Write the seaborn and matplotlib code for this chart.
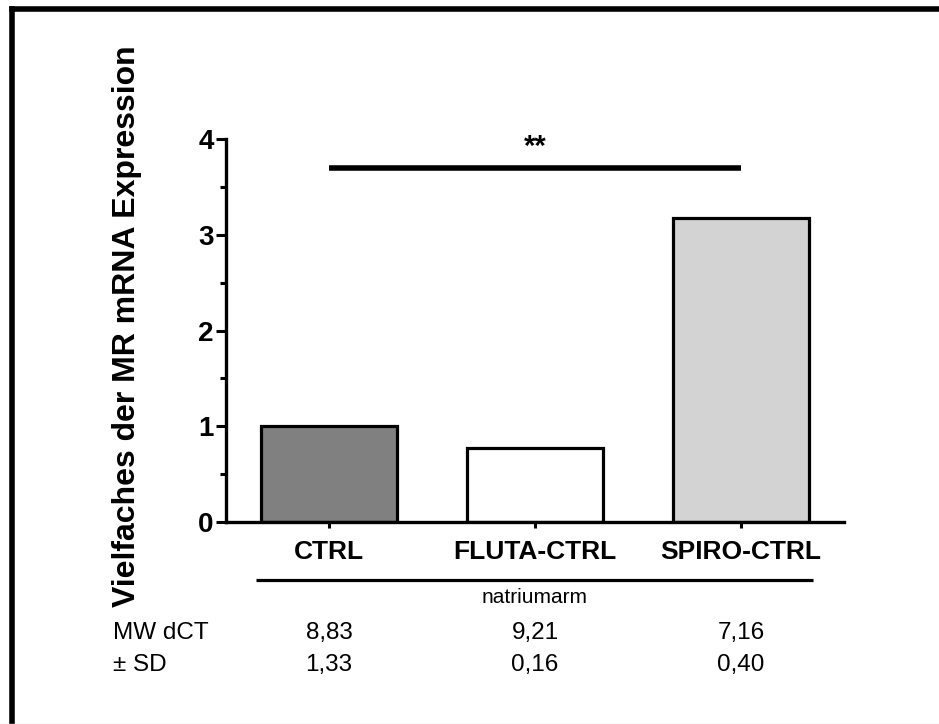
import matplotlib
matplotlib.use("Agg")
import matplotlib.pyplot as plt
import seaborn as sns
import pandas as pd
from matplotlib.lines import Line2D
from matplotlib.ticker import MultipleLocator

categories = ["CTRL", "FLUTA-CTRL", "SPIRO-CTRL"]
values = [1.0, 0.77, 3.17]
bar_colors = ["#808080", "#ffffff", "#d3d3d3"]
mw_dct = ["8,83", "9,21", "7,16"]
sd_vals = ["1,33", "0,16", "0,40"]
y_ticks = [0, 1, 2, 3, 4]
sig_text = "**"
sig_level = 3.7
group_label = "natriumarm"
y_label = "Vielfaches der MR mRNA Expression"

sns.set_theme(style="white")
plt.rcParams["font.family"] = ["Liberation Sans", "DejaVu Sans"]
plt.rcParams["text.color"] = "black"
plt.rcParams["axes.labelcolor"] = "black"
plt.rcParams["xtick.color"] = "black"
plt.rcParams["ytick.color"] = "black"

df = pd.DataFrame({"cat": categories, "val": values})

fig = plt.figure(figsize=(9.39, 7.24), dpi=100)
ax = fig.add_axes([0.2407, 0.279, 0.658, 0.529])

sns.barplot(data=df, x="cat", y="val", hue="cat", palette=bar_colors,
            edgecolor="black", linewidth=2.3, width=0.66, saturation=1,
            legend=False, ax=ax)

ax.set_xlim(-0.5, 2.5)
ax.set_ylim(0, 4)
ax.set_yticks(y_ticks)
ax.yaxis.set_minor_locator(MultipleLocator(0.5))
ax.set_xlabel("")
ax.set_ylabel("")

for s in ["top", "right"]:
    ax.spines[s].set_visible(False)
for s in ["left", "bottom"]:
    ax.spines[s].set_linewidth(2.4)
    ax.spines[s].set_color("black")

ax.tick_params(axis="y", which="major", direction="out", length=7, width=2.2,
               left=True, pad=2, labelsize=20, colors="black")
ax.tick_params(axis="y", which="minor", direction="out", length=4, width=2.2,
               left=True)
ax.tick_params(axis="x", which="major", direction="out", length=4, width=2.2,
               bottom=True, pad=9, labelsize=19, colors="black")
for lab in ax.get_yticklabels() + ax.get_xticklabels():
    lab.set_fontweight("bold")

# significance bar
ax.plot([0, 2], [sig_level, sig_level], color="black", lw=4, solid_capstyle="butt",
        clip_on=False)
ax.text(1, 3.92, sig_text, ha="center", va="center", fontsize=21,
        fontweight="bold", clip_on=False)

xt = ax.get_xaxis_transform()
# underline of group
ax.plot([-0.355, 2.35], [-0.151, -0.151], transform=xt, color="black", lw=2.3,
        clip_on=False, solid_capstyle="butt")
ax.text(1, -0.198, group_label, transform=xt, ha="center", va="center",
        fontsize=15)

for i in range(len(categories)):
    ax.text(i, -0.29, mw_dct[i], transform=xt, ha="center", va="center", fontsize=17.5)
    ax.text(i, -0.373, sd_vals[i], transform=xt, ha="center", va="center", fontsize=17.5)

fig.text(113 / 939, 1 - 633 / 724, "MW dCT", ha="left", va="center", fontsize=17.5)
fig.text(113 / 939, 1 - 665 / 724, "± SD", ha="left", va="center", fontsize=17.5)

fig.text(127 / 939, 1 - 326 / 724, y_label, rotation=90, ha="center", va="center",
         fontsize=23, fontweight="bold")

# outer frame (left and top)
fig.add_artist(Line2D([12 / 939, 12 / 939], [0, 1 - 9 / 724], color="black", lw=4,
                      transform=fig.transFigure, solid_capstyle="projecting"))
fig.add_artist(Line2D([12 / 939, 1], [1 - 9 / 724, 1 - 9 / 724], color="black", lw=4,
                      transform=fig.transFigure, solid_capstyle="projecting"))
fig.add_artist(Line2D([0, 1], [0.5 / 724, 0.5 / 724], color="#e6e6e6", lw=1,
                      transform=fig.transFigure))

fig.savefig("out.png", dpi=100)
